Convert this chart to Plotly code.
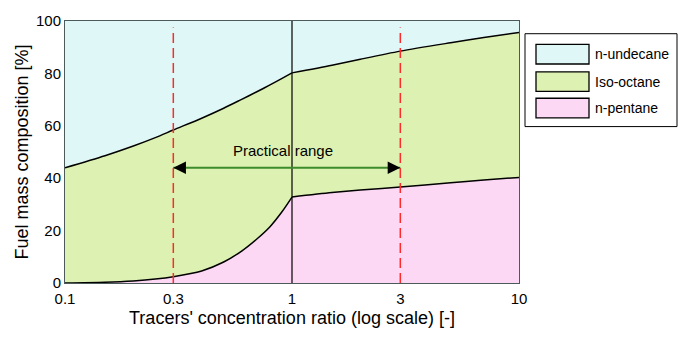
import math
import plotly.graph_objects as go

# ---- data ----
ratio = [0.1, 0.15, 0.2, 0.25, 0.3, 0.4, 0.5, 0.6, 0.7, 0.8, 0.9, 1.0,
         1.5, 2.0, 3.0, 5.0, 7.0, 10.0]
pentane_top = [0.0, 0.3, 0.8, 1.5, 2.4, 4.6, 8.0, 12.2, 16.8, 21.5, 27.0, 32.8,
               34.5, 35.5, 36.6, 38.3, 39.3, 40.3]
isooctane_top = [44.0, 48.6, 52.3, 55.5, 58.4, 62.9, 66.7, 70.1, 73.0, 75.6, 78.0, 80.2,
                 83.1, 85.4, 88.5, 91.7, 93.7, 95.6]
undecane_top = [100.0] * len(ratio)

series_names = ["n-undecane", "Iso-octane", "n-pentane"]
series_colors = ["#dff7f6", "#ddf1b2", "#fdd8f5"]

practical_range = [0.3, 3.0]
arrow_level = [44.0, 44.0]
switch_ratio = [1.0, 1.0]
full_span = [0.0, 100.0]
dash_span = [0.0, 97.5]

x_ticks = [0.1, 0.3, 1, 3, 10]
x_tick_text = ["0.1", "0.3", "1", "3", "10"]
y_ticks = [0, 20, 40, 60, 80, 100]

# ---- layout constants (pixels) ----
W, H = 678, 338
L, R, T, B = 65, 519, 15, 283
FONT = "Liberation Sans, Arial, Helvetica, sans-serif"


def px(xp):
    return (xp - L) / (R - L)


def py(yp):
    return (B - yp) / (B - T)


fig = go.Figure()

# split at the switch ratio so the kink is preserved while each side is smooth
k = ratio.index(1.0)
segments = [slice(0, k + 1), slice(k, len(ratio))]
for seg in segments:
    xs = ratio[seg]
    fig.add_trace(go.Scatter(x=xs, y=pentane_top[seg], mode="lines", fill="tozeroy",
                             fillcolor=series_colors[2], line_shape="spline",
                             line=dict(color="black", width=1.5, smoothing=0.8),
                             showlegend=False, hoverinfo="skip"))
    fig.add_trace(go.Scatter(x=xs, y=isooctane_top[seg], mode="lines", fill="tonexty",
                             fillcolor=series_colors[1], line_shape="spline",
                             line=dict(color="black", width=1.5, smoothing=0.8),
                             showlegend=False, hoverinfo="skip"))
    fig.add_trace(go.Scatter(x=xs, y=undecane_top[seg], mode="lines", fill="tonexty",
                             fillcolor=series_colors[0],
                             line=dict(color="rgba(0,0,0,0)", width=0),
                             showlegend=False, hoverinfo="skip"))

# vertical line at ratio = 1
fig.add_trace(go.Scatter(x=switch_ratio, y=full_span, mode="lines",
                         line=dict(color="black", width=1.2), showlegend=False, hoverinfo="skip"))

# red dashed boundaries of practical range
for xv in practical_range:
    fig.add_trace(go.Scatter(x=[xv, xv], y=dash_span, mode="lines",
                             line=dict(color="#ff2b2b", width=1.5, dash="10px,5px"),
                             showlegend=False, hoverinfo="skip"))

# green arrow shaft
fig.add_trace(go.Scatter(x=practical_range, y=arrow_level, mode="lines",
                         line=dict(color="#3d8b2a", width=2), showlegend=False, hoverinfo="skip"))

annotations = []
# arrow heads (black)
for xv, off in [(practical_range[0], 12), (practical_range[1], -12)]:
    annotations.append(dict(x=math.log10(xv), y=arrow_level[0], xref="x", yref="y",
                            ax=off, ay=0, axref="pixel", ayref="pixel", text="",
                            showarrow=True, arrowhead=2, arrowsize=1.15, arrowwidth=2.2,
                            arrowcolor="black", standoff=0))
annotations.append(dict(x=math.log10(1.0) - 0.04, y=arrow_level[0], xref="x", yref="y",
                        text="Practical range", showarrow=False, yshift=17,
                        font=dict(family=FONT, size=15, color="black")))

shapes = []
# legend box
shapes.append(dict(type="rect", xref="paper", yref="paper", x0=px(525), x1=px(677),
                   y0=py(123), y1=py(28), line=dict(color="black", width=1),
                   fillcolor="white", layer="above"))
sw_rows = [(39, 59), (67, 87), (94, 114)]
for (y0, y1), name, col in zip(sw_rows, series_names, series_colors):
    shapes.append(dict(type="rect", xref="paper", yref="paper", x0=px(536), x1=px(589),
                       y0=py(y1), y1=py(y0), line=dict(color="black", width=1.3),
                       fillcolor=col, layer="above"))
    annotations.append(dict(x=px(593), y=py((y0 + y1) / 2), xref="paper", yref="paper",
                            text=name, showarrow=False, xanchor="left", yanchor="middle",
                            font=dict(family=FONT, size=14, color="black")))

fig.update_layout(
    width=W, height=H,
    margin=dict(l=L, r=W - R, t=T, b=H - B, pad=0),
    paper_bgcolor="white", plot_bgcolor="white",
    font=dict(family=FONT, size=15, color="black"),
    shapes=shapes, annotations=annotations,
    xaxis=dict(type="log", range=[-1, 1], tickvals=x_ticks, ticktext=x_tick_text,
               showgrid=False, zeroline=False, ticks="", showline=True, mirror=True,
               linecolor="#4d5a5a", linewidth=1, ticklabelstandoff=2,
               tickfont=dict(family=FONT, size=15),
               title=dict(text="Tracers' concentration ratio (log scale) [-]",
                          font=dict(family=FONT, size=18), standoff=5)),
    yaxis=dict(range=[0, 100], tickvals=y_ticks, showgrid=False, zeroline=False,
               ticks="", showline=True, mirror=True, linecolor="#4d5a5a", linewidth=1,
               tickfont=dict(family=FONT, size=15),
               title=dict(text="Fuel mass composition [%]",
                          font=dict(family=FONT, size=18), standoff=2)),
)

fig.write_html("out.html")
